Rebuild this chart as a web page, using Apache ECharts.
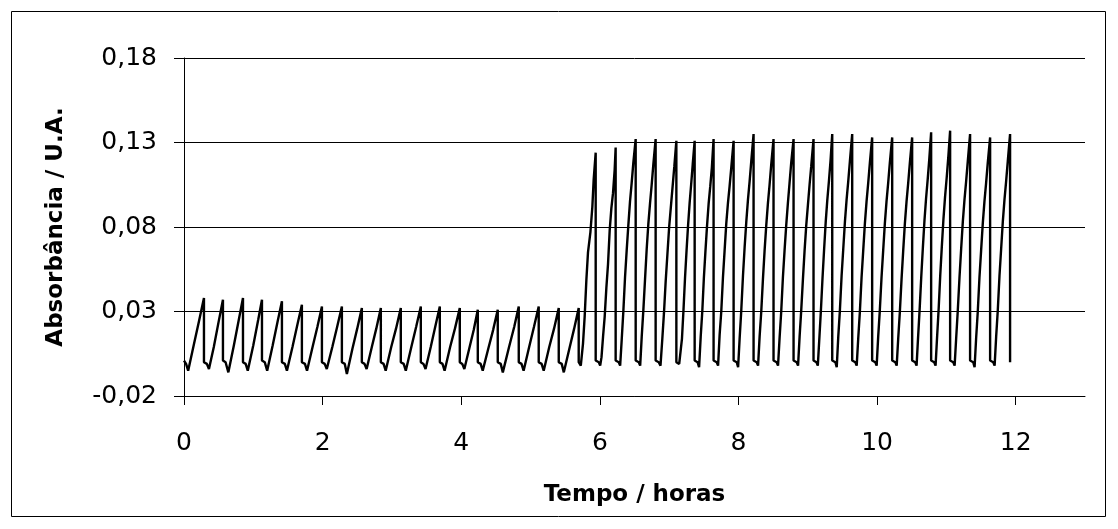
<!DOCTYPE html>
<html>
<head>
<meta charset="utf-8">
<script src="https://cdn.jsdelivr.net/npm/echarts@6/dist/echarts.min.js"></script>
<style>
html,body{margin:0;padding:0;background:#fff;}
#chart{width:1118px;height:529px;}
</style>
</head>
<body>
<div id="chart"></div>
<script>
// Tick labels
const xTicks = [0, 2, 4, 6, 8, 10, 12];
const yTicks = [-0.02, 0.03, 0.08, 0.13, 0.18];
const xTitle = 'Tempo / horas';
const yTitle = 'Absorbância / U.A.';

// Low-amplitude cycles (0 – 5.7 h): [tempo, absorbância]
const firstStage = [
  [0.000,0.001],[0.030,-0.001],[0.060,-0.005],[0.140,0.010],[0.220,0.025],[0.288,0.038],
  [0.288,0.000],[0.330,-0.001],[0.360,-0.004],[0.430,0.009],[0.500,0.024],[0.562,0.037],
  [0.562,0.001],[0.600,0.000],[0.640,-0.006],[0.720,0.010],[0.790,0.025],[0.851,0.038],
  [0.851,0.000],[0.890,-0.001],[0.920,-0.005],[1.000,0.010],[1.070,0.025],[1.125,0.037],
  [1.125,0.001],[1.165,0.000],[1.200,-0.005],[1.280,0.010],[1.350,0.024],[1.413,0.036],
  [1.413,0.000],[1.455,-0.001],[1.485,-0.005],[1.565,0.009],[1.635,0.022],[1.701,0.034],
  [1.701,0.000],[1.745,-0.001],[1.775,-0.005],[1.855,0.009],[1.925,0.021],[1.990,0.033],
  [1.990,0.000],[2.030,-0.001],[2.060,-0.004],[2.140,0.009],[2.210,0.021],[2.278,0.033],
  [2.278,0.000],[2.320,-0.001],[2.350,-0.007],[2.430,0.008],[2.500,0.020],[2.566,0.032],
  [2.566,0.000],[2.605,-0.001],[2.635,-0.004],[2.710,0.009],[2.775,0.020],[2.840,0.032],
  [2.840,0.000],[2.880,-0.001],[2.910,-0.005],[2.990,0.009],[3.060,0.020],[3.128,0.032],
  [3.128,0.000],[3.170,-0.001],[3.200,-0.005],[3.280,0.009],[3.350,0.021],[3.417,0.033],
  [3.417,0.000],[3.455,-0.001],[3.485,-0.004],[3.560,0.009],[3.625,0.021],[3.691,0.033],
  [3.691,0.000],[3.730,-0.001],[3.760,-0.005],[3.840,0.009],[3.910,0.020],[3.979,0.032],
  [3.979,0.000],[4.015,-0.001],[4.045,-0.004],[4.115,0.008],[4.180,0.019],[4.239,0.031],
  [4.239,0.000],[4.280,-0.001],[4.310,-0.005],[4.390,0.008],[4.460,0.019],[4.527,0.031],
  [4.527,0.000],[4.570,-0.001],[4.600,-0.006],[4.690,0.009],[4.765,0.021],[4.830,0.033],
  [4.830,0.000],[4.870,-0.001],[4.900,-0.005],[4.980,0.009],[5.050,0.021],[5.118,0.033],
  [5.118,0.000],[5.160,-0.001],[5.190,-0.005],[5.270,0.009],[5.340,0.020],[5.407,0.032],
  [5.407,0.000],[5.450,-0.001],[5.480,-0.006],[5.560,0.008],[5.630,0.020],[5.695,0.032]
];

// First high-amplitude rise
const transition = [
  [5.695,0.000],[5.725,-0.002],[5.757,0.011],[5.781,0.027],[5.806,0.049],[5.829,0.065],
  [5.864,0.077],[5.892,0.092],[5.911,0.108],[5.940,0.124]
];

// High-amplitude cycles (5.9 – 11.9 h)
const secondStage = [
  [5.940,0.001],[5.985,0.000],[6.005,-0.002],[6.024,0.003],[6.046,0.015],[6.070,0.027],[6.094,0.044],[6.118,0.058],[6.142,0.078],[6.166,0.091],[6.190,0.100],[6.214,0.114],[6.228,0.127],
  [6.228,0.001],[6.273,0.000],[6.293,-0.002],[6.315,0.013],[6.339,0.030],[6.363,0.050],[6.387,0.066],[6.411,0.081],[6.435,0.095],[6.459,0.106],[6.483,0.118],[6.517,0.132],
  [6.517,0.001],[6.562,0.000],[6.582,-0.002],[6.604,0.015],[6.628,0.031],[6.652,0.049],[6.676,0.067],[6.700,0.082],[6.724,0.094],[6.748,0.105],[6.772,0.117],[6.805,0.132],
  [6.805,0.001],[6.850,0.000],[6.875,-0.002],[6.900,0.013],[6.925,0.029],[6.950,0.048],[6.975,0.064],[7.000,0.080],[7.025,0.092],[7.050,0.104],[7.075,0.116],[7.104,0.131],
  [7.104,0.000],[7.145,-0.001],[7.165,-0.002],[7.185,0.014],[7.207,0.031],[7.229,0.050],[7.251,0.066],[7.273,0.081],[7.295,0.094],[7.317,0.105],[7.340,0.117],[7.368,0.131],
  [7.368,0.001],[7.410,0.000],[7.432,-0.003],[7.455,0.015],[7.478,0.030],[7.501,0.050],[7.524,0.066],[7.547,0.081],[7.570,0.094],[7.593,0.104],[7.616,0.115],[7.641,0.132],
  [7.641,0.001],[7.686,0.000],[7.706,-0.002],[7.728,0.016],[7.752,0.030],[7.776,0.050],[7.800,0.066],[7.824,0.082],[7.848,0.094],[7.872,0.104],[7.896,0.115],[7.930,0.131],
  [7.930,0.001],[7.975,0.000],[7.995,-0.003],[8.017,0.014],[8.041,0.031],[8.065,0.051],[8.089,0.068],[8.113,0.083],[8.137,0.096],[8.161,0.107],[8.185,0.119],[8.218,0.135],
  [8.218,0.001],[8.263,0.000],[8.283,-0.002],[8.305,0.015],[8.329,0.030],[8.353,0.049],[8.377,0.066],[8.401,0.081],[8.425,0.094],[8.449,0.105],[8.473,0.117],[8.506,0.132],
  [8.506,0.001],[8.551,0.000],[8.571,-0.002],[8.593,0.014],[8.617,0.030],[8.641,0.050],[8.665,0.066],[8.689,0.081],[8.713,0.094],[8.737,0.106],[8.761,0.118],[8.795,0.132],
  [8.795,0.001],[8.840,0.000],[8.860,-0.002],[8.882,0.015],[8.906,0.031],[8.930,0.049],[8.954,0.066],[8.978,0.081],[9.002,0.093],[9.026,0.105],[9.050,0.116],[9.083,0.132],
  [9.083,0.001],[9.125,0.000],[9.145,-0.002],[9.167,0.014],[9.190,0.031],[9.213,0.050],[9.236,0.067],[9.259,0.083],[9.282,0.096],[9.305,0.107],[9.328,0.119],[9.353,0.135],
  [9.353,0.001],[9.398,0.000],[9.418,-0.003],[9.440,0.015],[9.464,0.031],[9.488,0.051],[9.512,0.067],[9.536,0.083],[9.560,0.096],[9.584,0.107],[9.608,0.119],[9.641,0.135],
  [9.641,0.001],[9.686,0.000],[9.706,-0.002],[9.728,0.014],[9.752,0.030],[9.776,0.050],[9.800,0.066],[9.824,0.082],[9.848,0.095],[9.872,0.106],[9.896,0.118],[9.929,0.133],
  [9.929,0.001],[9.974,0.000],[9.994,-0.002],[10.016,0.015],[10.040,0.031],[10.064,0.050],[10.088,0.066],[10.112,0.082],[10.136,0.095],[10.160,0.106],[10.184,0.118],[10.218,0.133],
  [10.218,0.001],[10.263,0.000],[10.283,-0.002],[10.305,0.014],[10.329,0.030],[10.353,0.049],[10.377,0.066],[10.401,0.082],[10.425,0.095],[10.449,0.106],[10.473,0.118],[10.506,0.133],
  [10.506,0.001],[10.550,0.000],[10.570,-0.002],[10.592,0.015],[10.615,0.032],[10.638,0.051],[10.661,0.068],[10.684,0.084],[10.707,0.097],[10.730,0.108],[10.753,0.120],[10.780,0.136],
  [10.780,0.001],[10.824,0.000],[10.844,-0.002],[10.866,0.015],[10.889,0.032],[10.912,0.052],[10.935,0.069],[10.958,0.085],[10.981,0.098],[11.004,0.109],[11.027,0.121],[11.054,0.137],
  [11.054,0.001],[11.099,0.000],[11.119,-0.002],[11.141,0.014],[11.165,0.031],[11.189,0.050],[11.213,0.067],[11.237,0.083],[11.261,0.096],[11.285,0.107],[11.309,0.119],[11.342,0.135],
  [11.342,0.001],[11.387,0.000],[11.407,-0.003],[11.429,0.014],[11.453,0.030],[11.477,0.050],[11.501,0.066],[11.525,0.082],[11.549,0.095],[11.573,0.106],[11.597,0.118],[11.631,0.133],
  [11.631,0.001],[11.676,0.000],[11.696,-0.002],[11.718,0.015],[11.742,0.031],[11.766,0.051],[11.790,0.067],[11.814,0.083],[11.838,0.096],[11.862,0.107],[11.886,0.119],[11.919,0.135],
  [11.919,0.000]
];

const seriesData = firstStage.concat(transition, secondStage);

const chart = echarts.init(document.getElementById('chart'), null, {renderer: 'canvas'});
const fmt = v => v.toFixed(2).replace('.', ',');
chart.setOption({
  animation: false,
  backgroundColor: '#ffffff',
  graphic: [{
    type: 'rect',
    shape: {x: 11.5, y: 11.5, width: 1094, height: 505},
    style: {fill: 'none', stroke: '#000', lineWidth: 1},
    silent: true
  }],
  grid: {left: 184, right: 33, top: 58, bottom: 133, containLabel: false},
  xAxis: {
    type: 'value', min: 0, max: 13,
    name: xTitle, nameLocation: 'middle', nameGap: 88,
    nameTextStyle: {fontFamily: 'DejaVu Sans', fontWeight: 'bold', fontSize: 23, color: '#000'},
    axisLine: {onZero: false, lineStyle: {color: '#000', width: 1}},
    axisTick: {show: true, length: 9, inside: false, lineStyle: {color: '#000'}, customValues: xTicks},
    axisLabel: {customValues: xTicks, fontFamily: 'DejaVu Sans', fontSize: 25, color: '#000', margin: 35,
      formatter: v => String(v)},
    splitLine: {show: false}
  },
  yAxis: {
    type: 'value', min: -0.02, max: 0.18,
    name: yTitle, nameLocation: 'middle', nameGap: 116, nameRotate: 90,
    nameTextStyle: {fontFamily: 'DejaVu Sans', fontWeight: 'bold', fontSize: 23, color: '#000'},
    axisLine: {show: true, onZero: false, lineStyle: {color: '#000', width: 1}},
    axisTick: {show: true, length: 10, inside: false, lineStyle: {color: '#000'}, customValues: yTicks},
    axisLabel: {customValues: yTicks, fontFamily: 'DejaVu Sans', fontSize: 25, color: '#000', margin: 27,
      formatter: v => fmt(v)},
    splitLine: {show: true, lineStyle: {color: '#000', width: 1}}
  },
  series: [{
    type: 'line',
    data: seriesData,
    showSymbol: false,
    symbol: 'none',
    smooth: false,
    lineStyle: {color: '#000', width: 2.4},
    clip: true
  }]
});
</script>
</body>
</html>
